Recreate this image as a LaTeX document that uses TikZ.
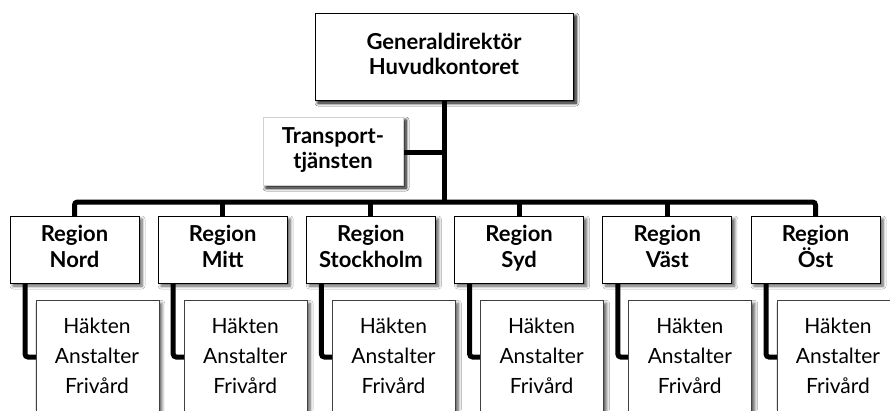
\documentclass[tikz,border=0pt]{standalone}
\usepackage{fontspec}
\setmainfont{Lato}
\usetikzlibrary{shadows.blur}
\lineskiplimit=-100pt\relax
\begin{document}
\begin{tikzpicture}[x=1pt,y=-1pt,
  shade/.style={blur shadow={shadow xshift=3pt,shadow yshift=-3pt,shadow blur steps=6,shadow blur radius=3pt,shadow opacity=65}},
  topbox/.style={draw=black,line width=1pt,fill=white,shade,minimum width=258pt,minimum height=87pt,align=center,font=\fontsize{22}{25}\selectfont\bfseries},
  transbox/.style={draw=black!18,line width=0.6pt,fill=white,shade,minimum width=140pt,minimum height=68pt,align=center,font=\fontsize{22}{25}\selectfont\bfseries},
  regbox/.style={draw=black,line width=1pt,fill=white,shade,minimum width=129pt,minimum height=67pt,align=center,font=\fontsize{22}{26}\selectfont\bfseries},
  unitbox/.style={draw=black!75,line width=0.8pt,fill=white,shade,minimum width=123pt,minimum height=150pt,align=center,anchor=north west,inner sep=0pt},
  conn/.style={line width=5pt,rounded corners=3pt},
  unittext/.style={font=\fontsize{21}{30}\selectfont,align=center}
]
\clip (0,0) rectangle (890,410);
\fill[white] (0,0) rectangle (890,410);
% connectors first
\node[topbox] (top) at (444,56.5) {\strut Generaldirektör\\Huvudkontoret\strut};
\node[transbox] (trans) at (333,151) {\strut Transport-\\tjänsten\strut};
\coordinate (bus) at (444,202);
\foreach \i/\nm/\t in {0/nord/Nord,1/mitt/Mitt,2/sthlm/Stockholm,3/syd/Syd,4/vast/Väst,5/ost/Öst}{
  \pgfmathsetmacro{\lx}{10+148.2*\i}
  \coordinate (c\nm) at (\lx+64.5,248.5);
  \coordinate (k\nm) at (\lx+15,357);
}
\draw[conn] (top.south) -- (bus);
\draw[conn] (trans.east |- 0,152) -- (444,152);
\draw[conn] (cnord |- 0,217) -- (cnord |- bus) -- (cost |- bus) -- (cost |- 0,217);
\foreach \nm in {mitt,sthlm,syd,vast}{
  \draw[conn] (c\nm |- bus) -- (c\nm |- 0,217);
}
\foreach \i/\nm in {0/nord,1/mitt,2/sthlm,3/syd,4/vast,5/ost}{
  \pgfmathsetmacro{\lx}{10+148.2*\i}
  \draw[conn] (k\nm |- 0,280) -- (k\nm) -- (\lx+28,357);
}
% boxes
\node[topbox] at (top) {\strut Generaldirektör\\Huvudkontoret\strut};
\node[transbox] at (trans) {\strut Transport-\\tjänsten\strut};
\foreach \i/\nm/\t in {0/nord/Nord,1/mitt/Mitt,2/sthlm/Stockholm,3/syd/Syd,4/vast/Väst,5/ost/Öst}{
  \pgfmathsetmacro{\lx}{10+148.2*\i}
  \node[regbox] (r\nm) at (\lx+64.5,249.5) {\strut Region\\\t\strut};
  \node[unitbox] (u\nm) at (\lx+25.5,300) {};
  \node[unittext] (t\nm) at (\lx+87,357) {\strut Häkten\\Anstalter\\Frivård\strut};
}
\end{tikzpicture}
\end{document}
